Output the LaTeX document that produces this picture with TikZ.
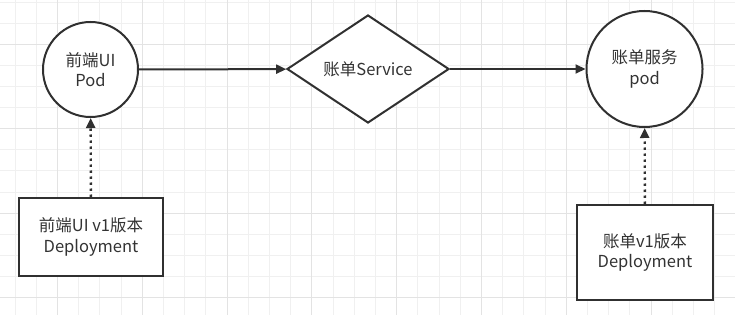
\documentclass[tikz,border=0pt]{standalone}
\usepackage{fontspec}
\setmainfont{Noto Sans CJK SC}
\usetikzlibrary{shapes}
\usetikzlibrary{arrows.meta}

\definecolor{linegray}{HTML}{303030}
\definecolor{textgray}{HTML}{333333}
\definecolor{gridminor}{HTML}{F0F0F0}
\definecolor{gridmajor}{HTML}{E3E3E3}

\tikzset{
  pod/.style={circle, draw=linegray, line width=2pt, fill=white, text=textgray,
    align=center, inner sep=0pt, font=\fontsize{16.5}{20.5}\selectfont},
  svc/.style={diamond, draw=linegray, line width=2pt, fill=white, text=textgray,
    inner sep=0pt, minimum width=162, minimum height=108, font=\fontsize{16.5}{20.5}\selectfont},
  deploy/.style={rectangle, draw=linegray, line width=2.2pt, fill=white, text=textgray,
    align=center, inner sep=0pt, font=\fontsize{16.5}{20.5}\selectfont},
  link/.style={draw=linegray, line width=2pt, -{Triangle[length=10pt,width=9pt]}},
  owns/.style={link, line width=2.4pt, dash pattern=on 2.4pt off 3.6pt}
}

\begin{document}
\begin{tikzpicture}[x=1pt, y=-1pt]

%Draw background grid
\fill[white] (0, 0) rectangle (735, 315);
\useasboundingbox (0, 0) rectangle (735, 315);
\foreach \k in {0,...,34} {
  \pgfmathsetmacro{\gx}{15 + 21.2*\k}
  \draw[gridminor, line width=0.8pt] (\gx, 0) -- (\gx, 315);
}
\foreach \k in {0,...,14} {
  \pgfmathsetmacro{\gy}{2 + 21.1*\k}
  \draw[gridminor, line width=0.8pt] (0, \gy) -- (735, \gy);
}
\foreach \k in {0,...,8} {
  \pgfmathsetmacro{\gx}{57.4 + 84.8*\k}
  \draw[gridmajor, line width=0.8pt] (\gx, 0) -- (\gx, 315);
}
\foreach \k in {0,...,3} {
  \pgfmathsetmacro{\gy}{44.2 + 84.4*\k}
  \draw[gridmajor, line width=0.8pt] (0, \gy) -- (735, \gy);
}

%Draw shapes
\node[pod, minimum size=95] (uipod) at (90.5, 69.5) {前端UI\\Pod};
\node[svc] (billsvc) at (368, 69) {账单Service};
\node[pod, minimum size=116] (billpod) at (644.5, 69) {账单服务\\pod};
\node[deploy, minimum width=144, minimum height=78] (uidep) at (91, 237) {前端UI v1版本\\Deployment};
\node[deploy, minimum width=136, minimum height=95] (billdep) at (645, 252.5) {账单v1版本\\Deployment};

%Draw connectors
\draw[link] (uipod) -- (billsvc);
\draw[link] (billsvc) -- (billpod);
\draw[owns] (uidep) -- (uipod);
\draw[owns] (billdep) -- (billpod);

\end{tikzpicture}
\end{document}
